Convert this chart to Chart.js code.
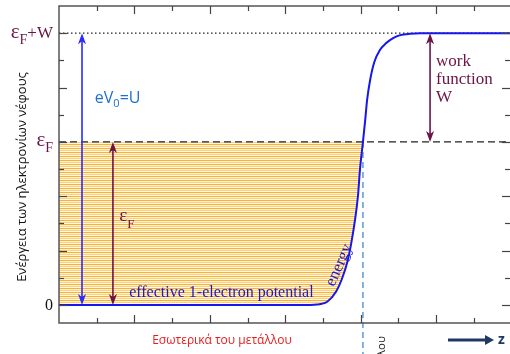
<!DOCTYPE html>
<html>
<head>
<meta charset="utf-8">
<script src="https://cdn.jsdelivr.net/npm/chart.js@4.4.0/dist/chart.umd.min.js"></script>
<style>
html, body { margin: 0; padding: 0; background: #fff; }
</style>
</head>
<body>
<canvas id="energyChart" width="510" height="354"></canvas>
<script>
// energy axis: 0 = bottom of the well, 6 = Fermi level, 10 = vacuum level (eF + W)
var fermiLevel = 6;
var vacuumLevel = 10;

// effective 1-electron potential across the surface
var curveX = [0, 6.4, 6.85, 7.12, 7.35, 7.5, 7.65, 7.76, 7.85, 7.93, 7.98, 8.06, 8.12, 8.17, 8.25, 8.36, 8.51, 8.67, 8.86, 9.05, 9.31, 9.58, 11.96];
var curveY = [0, 0, 0.02, 0.13, 0.5, 0.95, 1.6, 2.35, 3.13, 4.04, 4.96, 6.0, 6.8, 7.54, 8.27, 8.93, 9.38, 9.63, 9.82, 9.93, 9.98, 10, 10];

var surfaceX = 8.06;

var xTickValues = [1, 2, 3, 4, 5, 6, 7, 8, 9, 10, 11];
var yTickValues = [0, 1, 2, 3, 4, 5, 6, 7, 8, 9, 10];

// left axis labels: value, main, subscript, rest
var levelValues = [0, 6, 10];
var levelMain = ['0', 'ε', 'ε'];
var levelSub = ['', 'F', 'F'];
var levelRest = ['', '', '+W'];

// double arrows: x, from, to
var arrowX = [0.61, 1.43, 9.84];
var arrowFrom = [0, 0, 6];
var arrowTo = [10, 6, 10];
var arrowColor = ['#2b2bff', '#6b1446', '#6b1446'];

var curvePoints = curveX.map(function (x, i) { return { x: x, y: curveY[i] }; });

function stripes() {
  var c = document.createElement('canvas');
  c.width = 4; c.height = 4;
  var g = c.getContext('2d');
  var rows = ['#fab12e', '#fff2d4', '#fdd07a', '#fff8ea'];
  rows.forEach(function (col, i) { g.fillStyle = col; g.fillRect(0, i, 4, 1); });
  return g.createPattern(c, 'repeat');
}

var MAROON = '#6b1446';
var SERIF = '"Liberation Serif", "DejaVu Serif", serif';
var SANS = '"Open Sans", "Liberation Sans", sans-serif';

function drawParts(ctx, x, y, parts, align) {
  var w = 0;
  parts.forEach(function (p) { ctx.font = p.font; w += ctx.measureText(p.t).width; });
  var cx = align === 'right' ? x - w : (align === 'center' ? x - w / 2 : x);
  ctx.textAlign = 'left';
  ctx.textBaseline = 'alphabetic';
  parts.forEach(function (p) {
    ctx.font = p.font;
    ctx.fillStyle = p.color;
    ctx.fillText(p.t, cx, y + (p.dy || 0));
    cx += ctx.measureText(p.t).width;
  });
}

var decor = {
  id: 'decor',
  afterDatasetsDraw: function (chart) {
    var ctx = chart.ctx, xs = chart.scales.x, ys = chart.scales.y, a = chart.chartArea;
    function line(x0, y0, x1, y1) { ctx.beginPath(); ctx.moveTo(x0, y0); ctx.lineTo(x1, y1); ctx.stroke(); }
    ctx.save();

    // frame
    ctx.strokeStyle = '#555';
    ctx.lineWidth = 1.5;
    ctx.beginPath();
    ctx.moveTo(a.right + 2, a.top);
    ctx.lineTo(a.left, a.top);
    ctx.lineTo(a.left, a.bottom);
    ctx.lineTo(a.right + 2, a.bottom);
    ctx.stroke();

    // inward ticks
    ctx.strokeStyle = '#444';
    ctx.lineWidth = 1.2;
    xTickValues.forEach(function (v) {
      var px = Math.round(xs.getPixelForValue(v)) + 0.5, len = v % 2 === 0 ? 8 : 5;
      line(px, a.top, px, a.top + len);
      line(px, a.bottom, px, a.bottom - len);
    });
    yTickValues.forEach(function (v) {
      var py = Math.round(ys.getPixelForValue(v)) + 0.5, len = v % 2 === 0 ? 8 : 5;
      line(a.left, py, a.left + len, py);
      line(a.right, py, a.right - len, py);
    });

    // double arrows
    arrowX.forEach(function (x, i) {
      var px = xs.getPixelForValue(x), p0 = ys.getPixelForValue(arrowFrom[i]), p1 = ys.getPixelForValue(arrowTo[i]);
      ctx.strokeStyle = arrowColor[i];
      ctx.fillStyle = arrowColor[i];
      ctx.lineWidth = 1.6;
      line(px, p0 - 6, px, p1 + 6);
      [[p0, -1], [p1, 1]].forEach(function (h) {
        var tip = h[0], d = h[1];
        ctx.beginPath();
        ctx.moveTo(px, tip);
        ctx.lineTo(px - 4, tip + d * 11);
        ctx.lineTo(px, tip + d * 8);
        ctx.lineTo(px + 4, tip + d * 11);
        ctx.closePath();
        ctx.fill();
      });
    });

    // level labels on the left
    levelValues.forEach(function (v, i) {
      var py = ys.getPixelForValue(v);
      var col = levelSub[i] ? MAROON : '#111';
      drawParts(ctx, a.left - 6, py + 4.5, [
        { t: levelMain[i], font: (levelSub[i] ? '21px ' : '16px ') + SERIF, color: col },
        { t: levelSub[i], font: '14px ' + SERIF, color: col, dy: 6 },
        { t: levelRest[i], font: '17px ' + SERIF, color: col }
      ], 'right');
    });

    // eV0 = U
    drawParts(ctx, xs.getPixelForValue(0.95), ys.getPixelForValue(7.42), [
      { t: 'eV', font: '16px ' + SANS, color: '#1e6fd0' },
      { t: '0', font: '11px ' + SANS, color: '#1e6fd0', dy: 4 },
      { t: '=U', font: '16px ' + SANS, color: '#1e6fd0' }
    ], 'left');

    // eF next to its arrow
    drawParts(ctx, xs.getPixelForValue(1.6), ys.getPixelForValue(3.1), [
      { t: 'ε', font: '19px ' + SERIF, color: MAROON },
      { t: 'F', font: '13px ' + SERIF, color: MAROON, dy: 7 }
    ], 'left');

    // work function W
    ctx.fillStyle = MAROON;
    ctx.font = '17px ' + SERIF;
    ctx.textAlign = 'left';
    ctx.textBaseline = 'middle';
    ['work', 'function', 'W'].forEach(function (t, i) {
      ctx.fillText(t, xs.getPixelForValue(10.0), ys.getPixelForValue(8.97) + i * 18);
    });

    // potential caption
    ctx.fillStyle = '#1a1acc';
    ctx.font = '16px ' + SERIF;
    ctx.fillText('effective 1-electron potential', xs.getPixelForValue(1.86), ys.getPixelForValue(0.45));

    ctx.save();
    ctx.translate(xs.getPixelForValue(7.43), ys.getPixelForValue(1.47));
    ctx.rotate(-66 * Math.PI / 180);
    ctx.textAlign = 'center';
    ctx.font = '16.5px ' + SERIF;
    ctx.fillText('energy', 0, 0);
    ctx.restore();

    // axis title
    ctx.save();
    ctx.translate(22, 177);
    ctx.rotate(-Math.PI / 2);
    ctx.fillStyle = '#111';
    ctx.font = '13px ' + SANS;
    ctx.textAlign = 'center';
    ctx.fillText('Ενέργεια των ηλεκτρονίων νέφους', 0, 0);
    ctx.restore();

    // bottom captions
    ctx.fillStyle = '#e81c1c';
    ctx.font = '12px ' + SANS;
    ctx.textAlign = 'center';
    ctx.fillText('Εσωτερικά του μετάλλου', 222, 341);

    ctx.save();
    ctx.translate(382, 336);
    ctx.rotate(-Math.PI / 2);
    ctx.fillStyle = '#222';
    ctx.font = '11.5px ' + SANS;
    ctx.textAlign = 'right';
    ctx.fillText('λου', 0, 0);
    ctx.restore();

    ctx.strokeStyle = '#203864';
    ctx.fillStyle = '#203864';
    ctx.lineWidth = 3;
    line(448, 340, 487, 340);
    ctx.beginPath();
    ctx.moveTo(494, 340);
    ctx.lineTo(485, 335);
    ctx.lineTo(485, 345);
    ctx.closePath();
    ctx.fill();
    ctx.font = 'bold 14px ' + SANS;
    ctx.textAlign = 'left';
    ctx.fillText('z', 498, 340);

    ctx.restore();
  }
};

var ctx = document.getElementById('energyChart').getContext('2d');
var energyChart = new Chart(ctx, {
  type: 'line',
  data: {
    datasets: [
      {
        label: 'occupied states',
        data: [{ x: 0, y: fermiLevel }, { x: surfaceX, y: fermiLevel }],
        borderWidth: 0,
        borderColor: 'rgba(0,0,0,0)',
        backgroundColor: stripes(),
        fill: '+1',
        order: 5
      },
      {
        label: 'potential',
        data: curvePoints,
        borderColor: '#1616ee',
        borderWidth: 2,
        cubicInterpolationMode: 'monotone',
        fill: false,
        order: 0
      },
      {
        label: 'Fermi level',
        data: [{ x: 0, y: fermiLevel }, { x: 11.96, y: fermiLevel }],
        borderColor: '#222',
        borderWidth: 1.2,
        borderDash: [7, 4],
        fill: false,
        order: 3
      },
      {
        label: 'vacuum level',
        data: [{ x: 0, y: vacuumLevel }, { x: 11.96, y: vacuumLevel }],
        borderColor: '#222',
        borderWidth: 1.2,
        borderDash: [1.5, 2.5],
        fill: false,
        order: 3
      },
      {
        label: 'surface',
        data: [{ x: surfaceX, y: fermiLevel }, { x: surfaceX, y: -2 }],
        borderColor: '#5b9bd5',
        borderWidth: 1.5,
        borderDash: [6, 4],
        fill: false,
        clip: false,
        order: 4
      }
    ]
  },
  options: {
    responsive: false,
    animation: false,
    layout: { padding: { left: 59, top: 6, right: 0, bottom: 31 } },
    elements: { point: { radius: 0 } },
    scales: {
      x: { type: 'linear', display: false, min: 0, max: 11.96 },
      y: { type: 'linear', display: false, min: -0.66, max: 11 }
    },
    plugins: {
      legend: { display: false },
      tooltip: { enabled: false }
    }
  },
  plugins: [decor]
});
</script>
</body>
</html>
